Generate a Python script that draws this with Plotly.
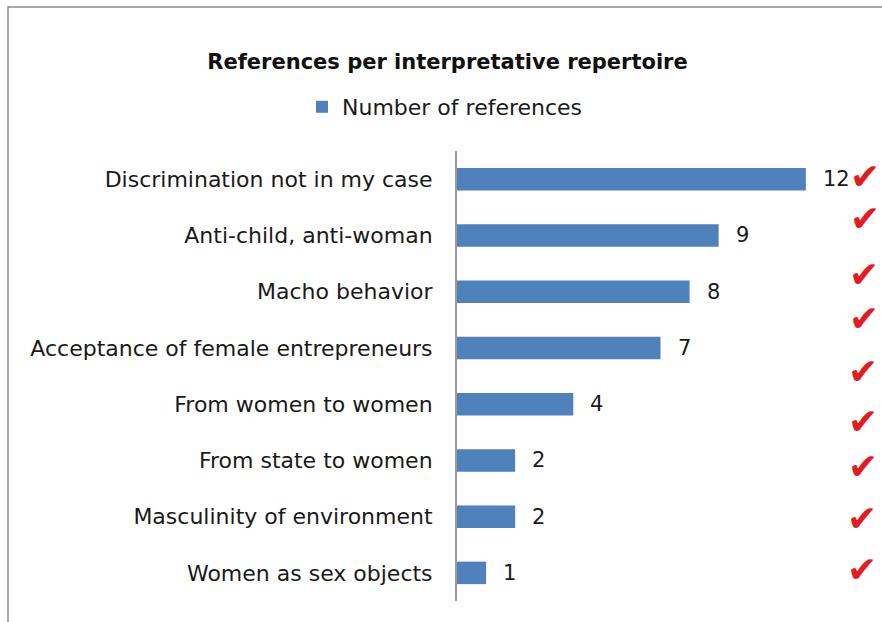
import plotly.graph_objects as go

categories = [
    "Discrimination not in my case",
    "Anti-child, anti-woman",
    "Macho behavior",
    "Acceptance of female entrepreneurs",
    "From women to women",
    "From state to women",
    "Masculinity of environment",
    "Women as sex objects",
]
values = [12, 9, 8, 7, 4, 2, 2, 1]
series_name = "Number of references"
title_text = "References per interpretative repertoire"

W, H = 882, 622
ML, MR, MT, MB = 457, 18, 151, 21
PW = W - ML - MR
PH = H - MT - MB

def px_x(p):
    return (p - ML) / PW

def px_y(p):
    return (H - MB - p) / PH

FONT = "DejaVu Sans"
BAR = "#4F81BD"
TXT = "#1a1a1a"

fig = go.Figure()
fig.add_trace(go.Bar(
    x=values, y=categories, orientation="h", name=series_name,
    marker=dict(color=BAR, line=dict(width=0)),
    width=0.4, showlegend=True,
))

annotations = []
for c, v in zip(categories, values):
    annotations.append(dict(
        x=v, y=c, xref="x", yref="y", text=str(v), showarrow=False,
        xanchor="left", xshift=15, font=dict(family=FONT, size=21, color=TXT),
    ))

check_px = [(882, 176), (882, 218), (881, 274), (881, 318), (880, 371),
            (880, 421), (880, 466), (879, 518), (879, 569)]
for cx, cy in check_px:
    annotations.append(dict(
        x=px_x(cx), y=px_y(cy), xref="paper", yref="paper", text="\u2714",
        showarrow=False, xanchor="right", yanchor="middle",
        font=dict(family="DejaVu Sans", size=36, color="#E31B23"),
    ))

fig.update_layout(
    width=W, height=H,
    margin=dict(l=ML, r=MR, t=MT, b=MB),
    paper_bgcolor="white", plot_bgcolor="white",
    font=dict(family=FONT, size=22, color=TXT),
    title=dict(text="<b>" + title_text + "</b>", x=447.5 / W, xanchor="center",
               y=1 - 62 / H, yanchor="middle",
               font=dict(family="DejaVu Sans", size=21, color="#111111")),
    legend=dict(orientation="h", x=px_x(302), y=px_y(107), xanchor="left",
                yanchor="middle", font=dict(family=FONT, size=22, color=TXT),
                bgcolor="rgba(0,0,0,0)"),
    xaxis=dict(range=[0, 14], showgrid=False, zeroline=False, showticklabels=False,
               ticks="", showline=False, fixedrange=True),
    yaxis=dict(categoryorder="array", categoryarray=categories[::-1],
               showgrid=False, zeroline=False, showline=True, linecolor="#9a9a9a",
               linewidth=2, ticks="", ticklabelstandoff=18, fixedrange=True,
               tickfont=dict(family=FONT, size=22, color=TXT)),
    annotations=annotations,
    shapes=[dict(type="rect", xref="paper", yref="paper",
                 x0=px_x(8), x1=px_x(900), y0=px_y(640), y1=px_y(7),
                 line=dict(color="#8c8c8c", width=1.5), fillcolor="rgba(0,0,0,0)",
                 layer="below")],
)

fig.write_html("out.html", config={"displayModeBar": False},
               post_script="document.body.style.margin='0px';")
